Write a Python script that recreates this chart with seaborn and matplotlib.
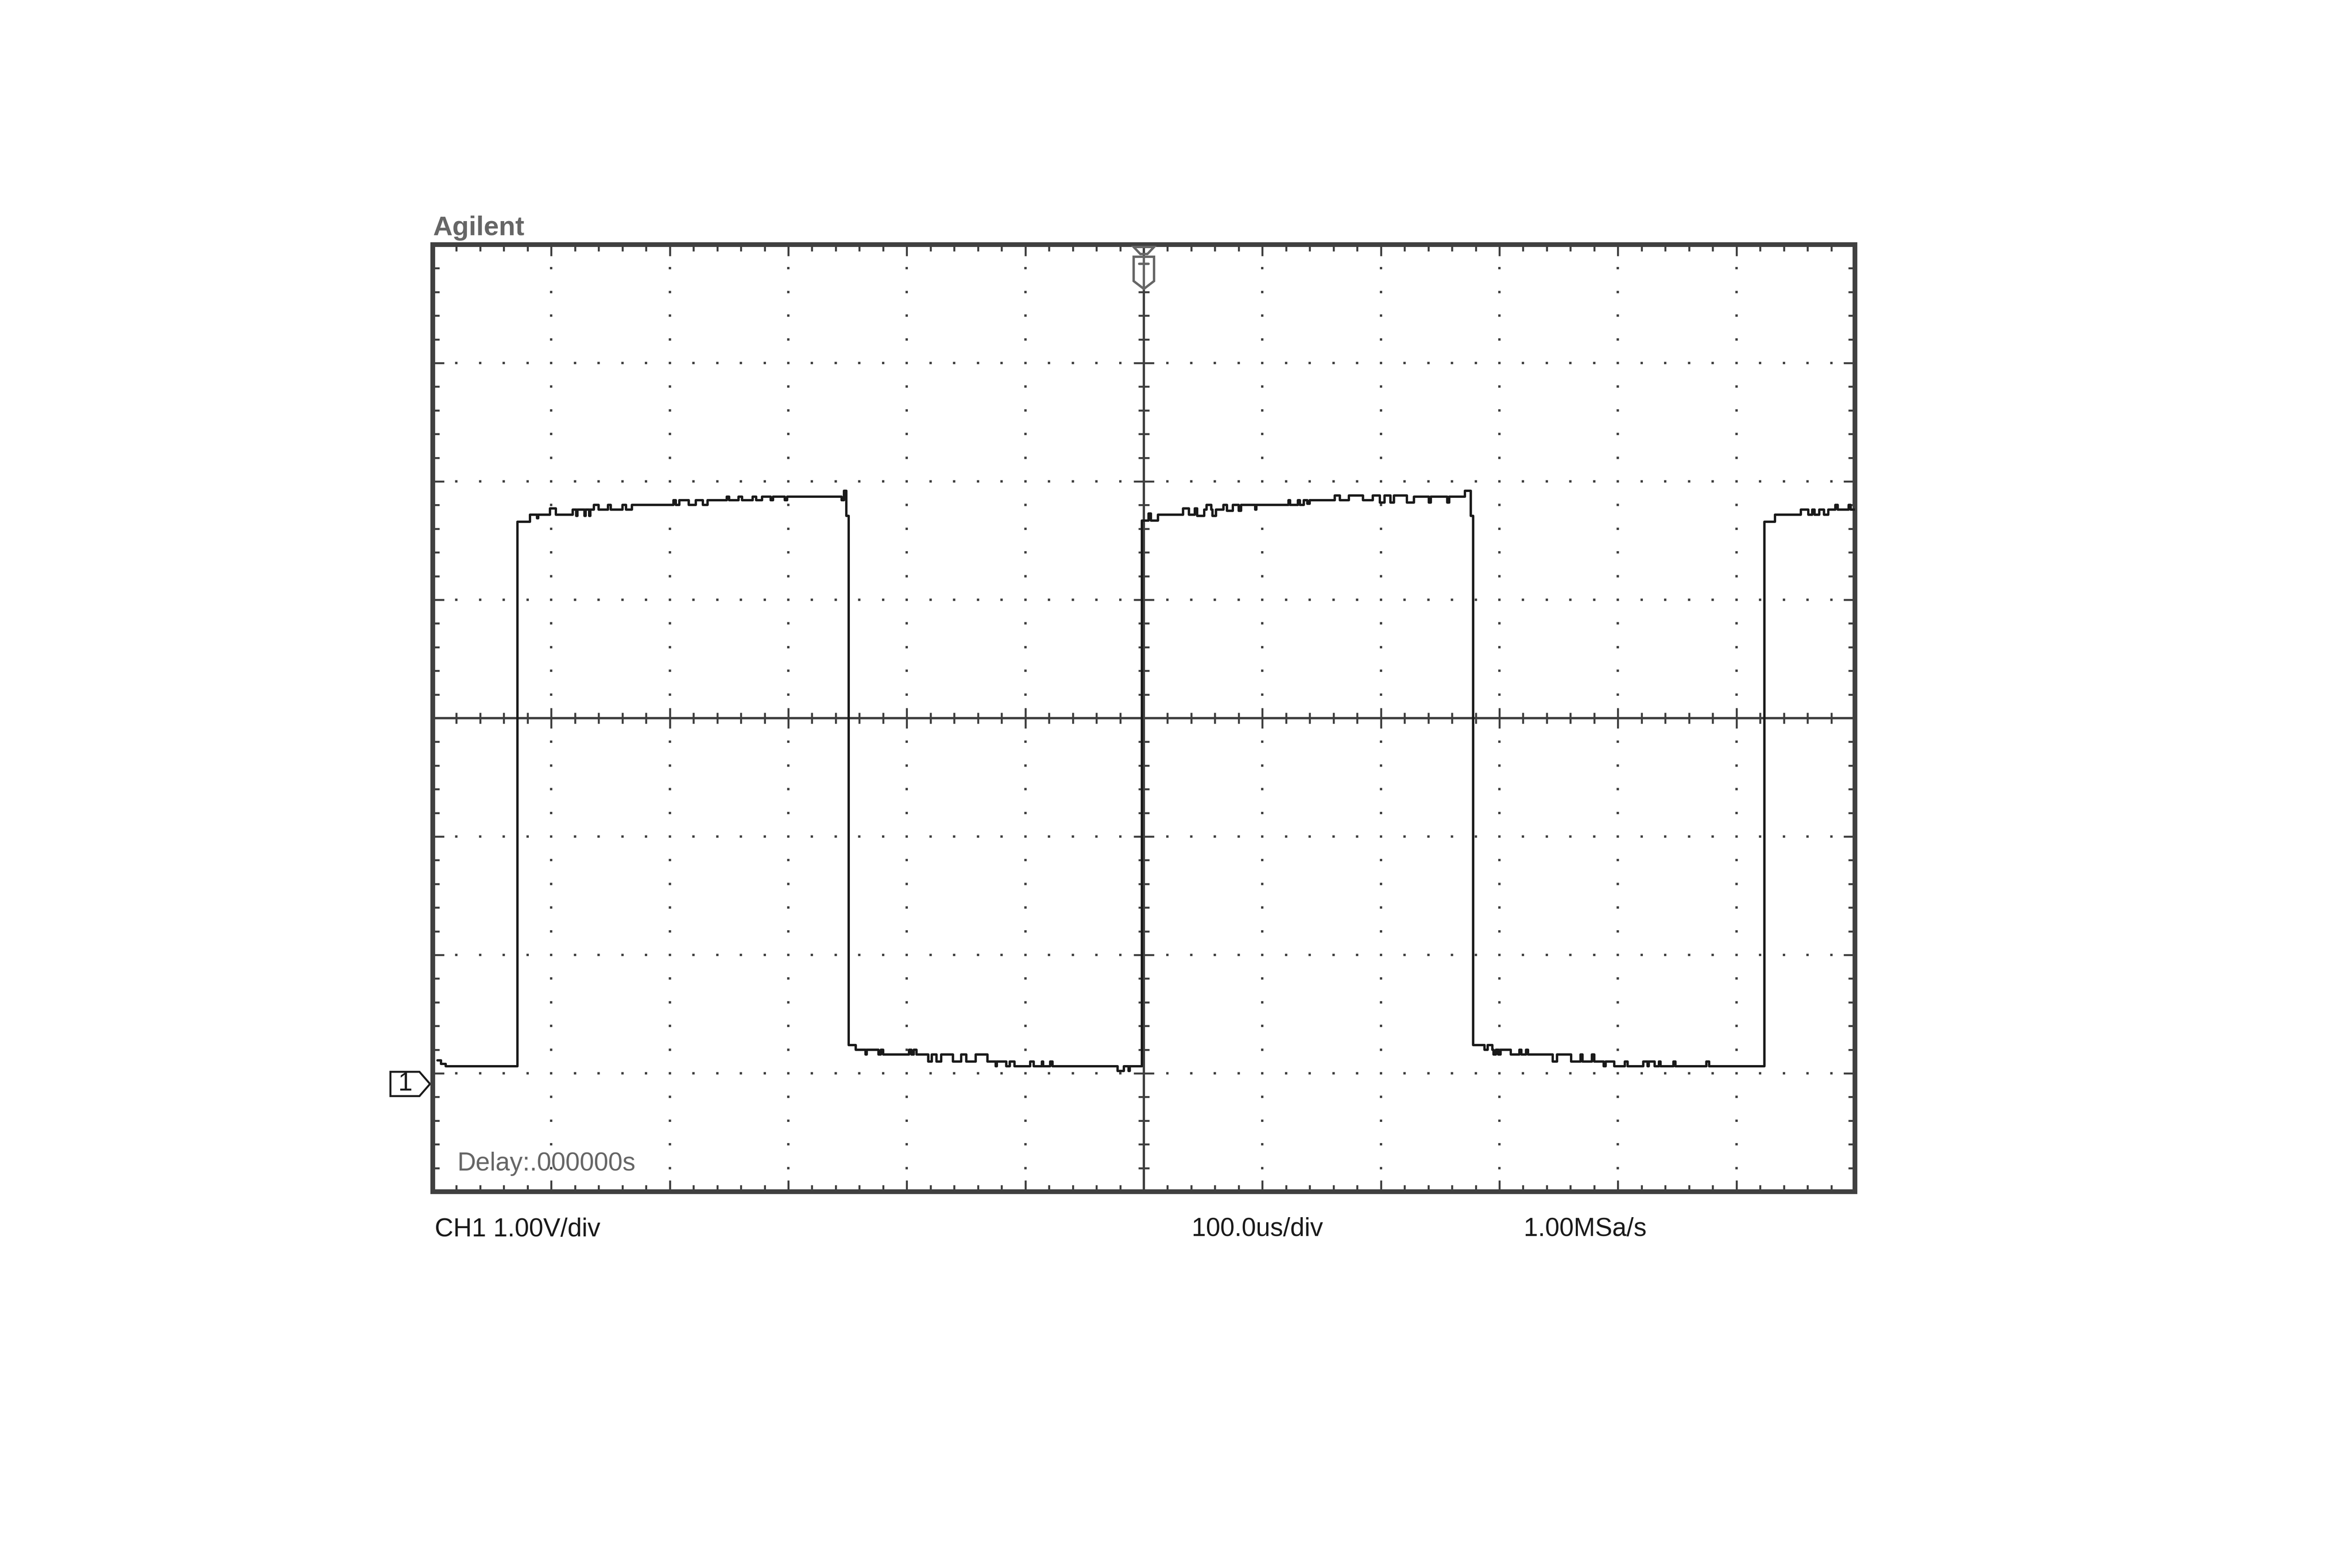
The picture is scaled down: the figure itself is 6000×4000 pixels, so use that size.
import numpy as np
import pandas as pd
import matplotlib
matplotlib.use('Agg')
import matplotlib.pyplot as plt
import seaborn as sns
from matplotlib.patches import Polygon
from matplotlib.transforms import Affine2D, ScaledTranslation, blended_transform_factory

# scope settings (Agilent screen dump, CH1 1.00V/div, 100us/div)
us_per_div = 100.0
volts_per_div = 1.0
ch1_offset = 3.09   # volts at the centre line, ground marker sits below it

# CH1 trace: time (us) where a level starts, level (V)
low0_t = [-596, -593, -589]
low0_v = [0.20, 0.17, 0.15]

high1_t = [-528.5, -518, -512, -511, -501, -496, -482, -479, -478, -472, -471, -468, -467, -464,
           -460, -452, -450, -440, -437, -432, -397, -395, -392, -384, -378, -372, -368, -352,
           -350, -342, -339, -330, -327, -322, -315, -313, -303, -301, -255, -253, -251]
high1_v = [4.75, 4.81, 4.78, 4.81, 4.86, 4.81, 4.85, 4.80, 4.85, 4.80, 4.85, 4.80, 4.85, 4.89,
           4.85, 4.89, 4.85, 4.89, 4.85, 4.89, 4.93, 4.89, 4.93, 4.89, 4.93, 4.89, 4.93, 4.96,
           4.93, 4.96, 4.93, 4.96, 4.93, 4.96, 4.93, 4.96, 4.93, 4.96, 4.93, 5.01, 4.80]

low1_t = [-249, -243, -235, -234, -224, -222, -220, -198, -196, -194, -192, -182, -179, -175,
          -171, -161, -154, -150, -142, -132, -125, -124, -116, -113, -109, -96, -93, -86, -85,
          -79, -77, -22, -17, -13, -12]
low1_v = [0.33, 0.29, 0.25, 0.29, 0.25, 0.29, 0.25, 0.29, 0.25, 0.29, 0.25, 0.19, 0.25, 0.19,
          0.25, 0.19, 0.25, 0.19, 0.25, 0.19, 0.15, 0.19, 0.15, 0.19, 0.15, 0.19, 0.15, 0.19, 0.15,
          0.19, 0.15, 0.11, 0.15, 0.11, 0.15]

high2_t = [-1.5, 4, 6, 12, 33, 38, 43, 45, 51, 53, 57, 58, 61, 67, 70, 75, 80, 82, 94, 95, 122,
           123.5, 130, 131.5, 135, 138, 140, 161, 165.5, 173, 185, 193, 199, 203, 208, 211, 222,
           228, 240.5, 242, 256, 257.5, 271, 276]
high2_v = [4.76, 4.82, 4.76, 4.81, 4.86, 4.81, 4.86, 4.80, 4.85, 4.89, 4.85, 4.80, 4.85, 4.89,
           4.84, 4.89, 4.84, 4.89, 4.85, 4.89, 4.93, 4.89, 4.93, 4.89, 4.93, 4.90, 4.93, 4.97,
           4.93, 4.97, 4.93, 4.97, 4.91, 4.97, 4.91, 4.97, 4.91, 4.96, 4.91, 4.96, 4.91, 4.96,
           5.01, 4.80]

low2_t = [278, 287.5, 290, 294, 295, 297, 299, 301, 309.5, 317, 318.5, 322.5, 324, 345, 348.5,
          360.5, 368.5, 370, 378, 380, 388, 389.5, 397, 406, 408, 421.5, 425, 426, 431, 434.5,
          436, 447, 448.5, 474.5, 477]
low2_v = [0.33, 0.29, 0.33, 0.29, 0.25, 0.29, 0.25, 0.29, 0.25, 0.29, 0.25, 0.29, 0.25, 0.19,
          0.25, 0.19, 0.25, 0.19, 0.25, 0.19, 0.15, 0.19, 0.15, 0.19, 0.15, 0.19, 0.15, 0.19,
          0.15, 0.19, 0.15, 0.19, 0.15, 0.19, 0.15]

high3_t = [523.5, 532.5, 554.5, 560.5, 564, 566, 570, 574, 577.5, 583.5, 585.5, 594.8, 596.5, 600]
high3_v = [4.75, 4.81, 4.85, 4.81, 4.85, 4.81, 4.85, 4.81, 4.85, 4.89, 4.85, 4.89, 4.85, 4.85]

trace = pd.DataFrame({
    't_us': low0_t + high1_t + low1_t + high2_t + low2_t + high3_t,
    'ch1_v': low0_v + high1_v + low1_v + high2_v + low2_v + high3_v,
})

frame_col = '#404040'
trace_col = '#1a1a1a'
label_col = '#666666'
px = 72 / 400   # one output pixel in points
fs = 11.8

sns.set_style('white')
plt.rcParams['font.family'] = ['Liberation Sans', 'DejaVu Sans']

fig = plt.figure(figsize=(15, 10), dpi=400)
ax = fig.add_axes([1104 / 6000, 1 - 3040 / 4000, 3628 / 6000, 2416 / 4000])

xlim = (-6 * us_per_div, 6 * us_per_div)
ylim = (ch1_offset - 4 * volts_per_div, ch1_offset + 4 * volts_per_div)
ax.set_xlim(xlim)
ax.set_ylim(ylim)

# graticule: dotted major lines, cross-ticked centre axes, ticks on the frame
x_major = np.arange(-6, 7) * us_per_div
y_major = ch1_offset + np.arange(-4, 5) * volts_per_div
x_minor = np.arange(-30, 31) * us_per_div / 5
y_minor = ch1_offset + np.arange(-20, 21) * volts_per_div / 5
ax.set_xticks(x_major)
ax.set_xticks(x_minor, minor=True)
ax.set_yticks(y_major)
ax.set_yticks(y_minor, minor=True)
ax.tick_params(which='both', direction='in', top=True, right=True, bottom=True, left=True,
               labelbottom=False, labelleft=False, color=frame_col, width=5 * px)
ax.tick_params(which='major', length=29 * px)
ax.tick_params(which='minor', length=17 * px)
for s in ax.spines.values():
    s.set_color(frame_col)
    s.set_linewidth(12 * px)

inner_x = [x for x in x_major[1:-1] if x != 0]
inner_y = [y for y in y_major[1:-1] if abs(y - ch1_offset) > 1e-9]
for x in inner_x:
    ax.plot(np.full(len(y_minor) - 2, x), y_minor[1:-1], ls='none', marker='s',
            ms=6 * px, mew=0, color=frame_col, zorder=1)
for y in inner_y:
    ax.plot(x_minor[1:-1], np.full(len(x_minor) - 2, y), ls='none', marker='s',
            ms=6 * px, mew=0, color=frame_col, zorder=1)

ax.axvline(0, color=frame_col, lw=6 * px, zorder=1)
ax.axhline(ch1_offset, color=frame_col, lw=6 * px, zorder=1)
ax.plot(np.zeros(len(y_minor)), y_minor, ls='none', marker='_', ms=28 * px, mew=5 * px,
        color=frame_col, zorder=1)
ax.plot(np.zeros(len(y_major)), y_major, ls='none', marker='_', ms=52 * px, mew=5 * px,
        color=frame_col, zorder=1)
ax.plot(x_minor, np.full(len(x_minor), ch1_offset), ls='none', marker='|', ms=28 * px,
        mew=5 * px, color=frame_col, zorder=1)
ax.plot(x_major, np.full(len(x_major), ch1_offset), ls='none', marker='|', ms=52 * px,
        mew=5 * px, color=frame_col, zorder=1)

sns.lineplot(data=trace, x='t_us', y='ch1_v', drawstyle='steps-post', estimator=None,
             sort=False, color=trace_col, linewidth=6 * px, ax=ax, zorder=3)
ax.set_xlabel('')
ax.set_ylabel('')

# trigger marker at the top centre (shape in output pixels, y pointing down)
trig_tr = Affine2D().scale(1, -1) + ScaledTranslation(0.5, 1.0, ax.transAxes)
ax.add_patch(Polygon([(-26, 6), (26, 6), (9, 24), (-9, 24)], closed=True, fill=False,
                     ec=label_col, lw=6 * px, transform=trig_tr, clip_on=False, zorder=4))
ax.add_patch(Polygon([(-26, 31), (26, 31), (26, 93), (0, 113), (-26, 93)], closed=True,
                     fc='white', ec=label_col, lw=6 * px, transform=trig_tr, clip_on=False,
                     zorder=4))
ax.plot([-12, 12], [49, 49], color=label_col, lw=6 * px, transform=trig_tr, clip_on=False,
        zorder=5)
ax.plot([0, 0], [31, 113], color=label_col, lw=6 * px, transform=trig_tr, clip_on=False,
        zorder=5)

# channel 1 ground marker on the left, at 0 V
gnd = blended_transform_factory(ax.transAxes, ax.transData)
gnd_tr = Affine2D().scale(1, -1) + ScaledTranslation(0, 0.0, gnd)
ax.add_patch(Polygon([(-108, -31), (-34, -31), (-7, 0), (-34, 31), (-108, 31)], closed=True,
                     fill=False, ec=trace_col, lw=5 * px, transform=gnd_tr, clip_on=False))
ax.annotate('1', xy=(0, 0.0), xycoords=gnd, xytext=(-70 * px, 0), textcoords='offset points',
            ha='center', va='center', fontsize=fs, color=trace_col)

# screen texts
fig.text(1104 / 6000, 1 - 600 / 4000, 'Agilent', fontsize=12.4, fontweight='bold',
         color=label_col, ha='left', va='baseline')
fig.text(1167 / 6000, 1 - 2986 / 4000, 'Delay:.000000s', fontsize=fs, color=label_col,
         ha='left', va='baseline')
fig.text(1109 / 6000, 1 - 3154 / 4000, 'CH1 1.00V/div', fontsize=fs, color=trace_col,
         ha='left', va='baseline')
fig.text(3040 / 6000, 1 - 3153 / 4000, '100.0us/div', fontsize=fs, color=trace_col,
         ha='left', va='baseline')
fig.text(3887 / 6000, 1 - 3153 / 4000, '1.00MSa/s', fontsize=fs, color=trace_col,
         ha='left', va='baseline')

fig.savefig('out.png', dpi=400, facecolor='white')
